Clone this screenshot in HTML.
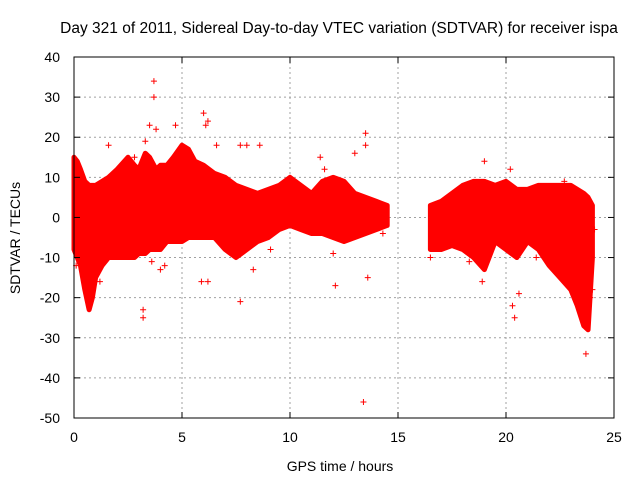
<!DOCTYPE html>
<html><head><meta charset="utf-8"><style>
body{margin:0;background:#fff}
svg text{font-family:"Liberation Sans",sans-serif;font-size:14px;fill:#000}
</style></head><body>
<svg id="chart" width="640" height="480">
<text x="339" y="33" text-anchor="middle" style="font-size:15.5px">Day 321 of 2011, Sidereal Day-to-day VTEC variation (SDTVAR) for receiver ispa</text>
<text x="340" y="471" text-anchor="middle">GPS time / hours</text>
<text transform="translate(20,238) rotate(-90)" text-anchor="middle">SDTVAR / TECUs</text>
<g id="grid"></g><g id="marks"></g><g id="axes"></g>
</svg>
<script>
const xTicks=[0,5,10,15,20,25];
const yTicks=[40,30,20,10,0,-10,-20,-30,-40,-50];
const seg1Time=[0,0.15,0.3,0.5,0.7,0.85,1.0,1.3,1.6,2.0,2.5,2.8,3.0,3.3,3.5,3.8,4.0,4.3,4.6,5.0,5.3,5.6,6.0,6.5,7.0,7.5,8.0,8.5,9.0,9.5,10.0,10.5,11.0,11.5,12.0,12.5,13.0,13.5,14.0,14.5];
const seg1Upper=[15,14,12,9,8,8,8,9,10,12,15,13,12,16,15,12,13,13,15,18,17,14,13,11,10,8,7,6,7,8,10,8,6,9,10,9,6,5,4,3];
const seg1Lower=[-8,-10,-12,-18,-23,-20,-15,-12,-10,-10,-10,-10,-9,-9,-8,-8,-8,-6,-6,-6,-5,-5,-5,-5,-8,-10,-8,-6,-5,-3,-2,-3,-4,-4,-5,-6,-5,-4,-3,-2];
const seg2Time=[16.5,17.0,17.5,18.0,18.5,19.0,19.5,20.0,20.5,21.0,21.5,22.0,22.5,23.0,23.3,23.6,23.8,24.0];
const seg2Upper=[3,4,6,8,9,9,8,9,7,7,8,8,8,8,7,6,5,3];
const seg2Lower=[-8,-8,-7,-8,-10,-13,-6,-8,-10,-6,-8,-12,-15,-18,-22,-27,-28,-10];
const outT=[3.3,3.5,3.7,3.7,3.8,4.0,4.7,6.0,6.1,6.2,5.9,7.7,7.7,8.0,8.6,10.4,11.4,12.0,12.1,13.0,13.4,13.5,13.5,3.2,3.2,3.6,6.2,20.2,20.3,20.4,23.7,19.0,1.6,0.8,0.05,0.1,1.2,2.8,4.2,6.6,7.3,8.3,9.1,11.6,13.6,14.3,17.3,18.3,18.9,20.6,21.4,22.7,23.9,24.1,24.0,16.5];
const outV=[19,23,34,30,22,-13,23,26,23,24,-16,18,-21,18,18,5,15,-9,-17,16,-46,21,18,-23,-25,-11,-16,12,-22,-25,-34,14,18,-15,10,-12,-16,15,-12,18,-9,-13,-8,12,-15,-4,-7,-11,-16,-19,-10,9,-20,-3,-18,-10];
const X0=74,X1=614,Y0=57,Y1=418;
const sx=t=>X0+(t-0)/25*(X1-X0);
const sy=v=>Y0+(40-v)/90*(Y1-Y0);
const NS="http://www.w3.org/2000/svg";
function mk(tag,attrs,parent){const e=document.createElementNS(NS,tag);for(const k in attrs)e.setAttribute(k,attrs[k]);parent.appendChild(e);return e;}
const grid=document.getElementById('grid'),marks=document.getElementById('marks'),axes=document.getElementById('axes');
xTicks.forEach(t=>{
 if(t>0&&t<25){const l=mk('line',{x1:sx(t),x2:sx(t),y1:Y0,y2:Y1,stroke:'#a0a0a0','stroke-dasharray':'2,3'},grid);
 
 }
 const tx=mk('text',{x:sx(t),y:Y1+24,'text-anchor':'middle'},axes);tx.textContent=t;
 
 
 mk('line',{x1:sx(t),x2:sx(t),y1:Y1,y2:Y1-6,stroke:'#000'},axes);
 mk('line',{x1:sx(t),x2:sx(t),y1:Y0,y2:Y0+6,stroke:'#000'},axes);
});
yTicks.forEach(v=>{
 if(v<40&&v>-50){const l=mk('line',{x1:X0,x2:X1,y1:sy(v),y2:sy(v),stroke:'#a0a0a0','stroke-dasharray':'2,3'},grid);
 
 }
 const tx=mk('text',{x:X0-14,y:sy(v)+5,'text-anchor':'end'},axes);tx.textContent=v;
 
 
 mk('line',{x1:X0,x2:X0+6,y1:sy(v),y2:sy(v),stroke:'#000'},axes);
 mk('line',{x1:X1,x2:X1-6,y1:sy(v),y2:sy(v),stroke:'#000'},axes);
});
const border=mk('rect',{x:X0,y:Y0,width:X1-X0,height:Y1-Y0,fill:'none',stroke:'#000'},axes);


function band(T,U,L,name){
 let pts=T.map((t,i)=>sx(t)+','+sy(U[i]));
 for(let i=T.length-1;i>=0;i--)pts.push(sx(T[i])+','+sy(L[i]));
 const p=mk('polygon',{points:pts.join(' '),fill:'#ff0000',stroke:'#ff0000','stroke-width':5,'stroke-linejoin':'round'},marks);
 
 
}
band(seg1Time,seg1Upper,seg1Lower,'sdtvar-band-early');
band(seg2Time,seg2Upper,seg2Lower,'sdtvar-band-late');
outT.forEach((t,i)=>{
 const x=sx(t),y=sy(outV[i]);
 const p=mk('path',{d:`M${x-3},${y}H${x+3}M${x},${y-3}V${y+3}`,stroke:'#ff0000','stroke-width':1},marks);
 
 
});
</script>
</body></html>
